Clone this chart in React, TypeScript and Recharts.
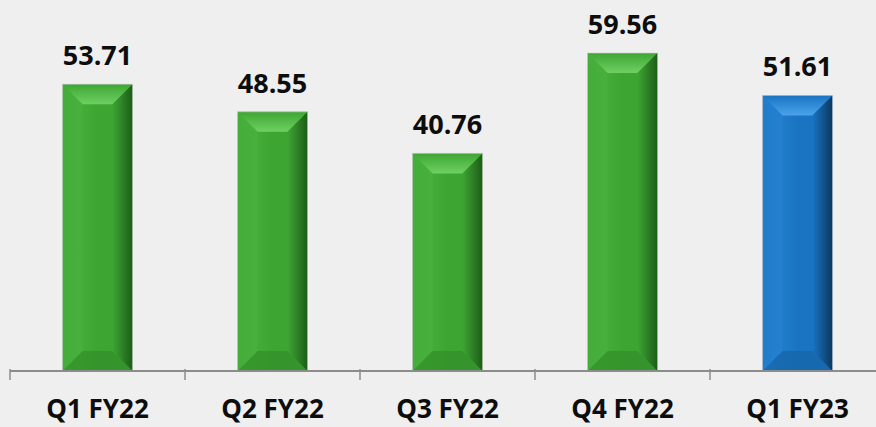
import React from 'react'
import { BarChart, Bar, XAxis, YAxis, LabelList, Cell } from 'recharts'

const quarters = ['Q1 FY22', 'Q2 FY22', 'Q3 FY22', 'Q4 FY22', 'Q1 FY23']
const values = [53.71, 48.55, 40.76, 59.56, 51.61]
const highlight = [false, false, false, false, true]

const data = quarters.map((q, i) => ({ name: q, value: values[i], hl: highlight[i] }))

const palettes = {
  green: { base: '#3da633', light: '#6fd062', dark: '#1d5c18', bottom: '#33912b', left: '#4cb540' },
  blue: { base: '#1a74c2', light: '#4aa3ea', dark: '#0b3760', bottom: '#1766aa', left: '#2886d4' },
}

const BevelBar = (props: any) => {
  const { x, y, width, height, payload } = props
  if (!height || height <= 0) return null
  const key = payload.hl ? 'blue' : 'green'
  const p = palettes[key]
  const b = Math.min(20, width / 3, height / 3)
  return (
    <g>
      <rect x={x} y={y} width={width} height={height} fill={`url(#face-${key})`} />
      {/* top bevel */}
      <polygon
        points={`${x},${y} ${x + width},${y} ${x + width - b},${y + b} ${x + b},${y + b}`}
        fill={`url(#top-${key})`}
      />
      {/* bottom bevel */}
      <polygon
        points={`${x},${y + height} ${x + width},${y + height} ${x + width - b},${y + height - b} ${x + b},${y + height - b}`}
        fill={p.bottom}
        opacity={0.8}
      />
      {/* left bevel */}
      <polygon
        points={`${x},${y} ${x + b},${y + b} ${x + b},${y + height - b} ${x},${y + height}`}
        fill={`url(#left-${key})`}
        opacity={0.5}
      />
      {/* right bevel */}
      <polygon
        points={`${x + width},${y} ${x + width - b},${y + b} ${x + width - b},${y + height - b} ${x + width},${y + height}`}
        fill={`url(#right-${key})`}
      />
      <rect x={x} y={y} width={width} height={height} fill="none" stroke="#c9c9c9" strokeWidth={1} strokeOpacity={0.6} />
    </g>
  )
}

const QuarterTick = (props: any) => {
  const { x, y, payload, index } = props
  const half = 87.5
  return (
    <g>
      <line x1={x - half} y1={y - 8} x2={x - half} y2={y + 3} stroke="#8c8c8c" strokeWidth={1.5} />
      {index === quarters.length - 1 && (
        <line x1={x + half} y1={y - 8} x2={x + half} y2={y + 3} stroke="#8c8c8c" strokeWidth={1.5} />
      )}
      <text x={x} y={y + 41} textAnchor="middle" fontSize={26} fontWeight={700} fill="#0d0d0d" fontFamily="'Open Sans', sans-serif">
        {payload.value}
      </text>
    </g>
  )
}

const Defs = () => (
  <defs>
    {(['green', 'blue'] as const).map((k) => {
      const p = palettes[k]
      return (
        <React.Fragment key={k}>
          <linearGradient id={`face-${k}`} x1="0" y1="0" x2="1" y2="0">
            <stop offset="0%" stopColor={p.left} />
            <stop offset="50%" stopColor={p.base} />
            <stop offset="100%" stopColor={p.base} />
          </linearGradient>
          <linearGradient id={`top-${k}`} x1="0" y1="0" x2="0" y2="1">
            <stop offset="0%" stopColor={p.base} />
            <stop offset="100%" stopColor={p.light} />
          </linearGradient>
          <linearGradient id={`left-${k}`} x1="0" y1="0" x2="1" y2="0">
            <stop offset="0%" stopColor={p.base} />
            <stop offset="100%" stopColor={p.left} />
          </linearGradient>
          <linearGradient id={`right-${k}`} x1="0" y1="0" x2="1" y2="0">
            <stop offset="0%" stopColor={p.base} />
            <stop offset="100%" stopColor={p.dark} />
          </linearGradient>
        </React.Fragment>
      )
    })}
  </defs>
)

export default function App() {
  return (
    <div style={{ position: 'fixed', top: 0, left: 0, width: 876, height: 427, overflow: 'hidden', background: '#efefef' }}>
      <BarChart
        width={895}
        height={427}
        data={data}
        margin={{ top: 24, right: 10, bottom: 0, left: 10 }}
        barCategoryGap="30%"
      >
        <Defs />
        <XAxis
          dataKey="name"
          height={56}
          axisLine={{ stroke: '#8c8c8c', strokeWidth: 2 }}
          tickLine={false}
          tick={<QuarterTick />}
          interval={0}
          tickMargin={0}
        />
        <YAxis hide domain={[0, 65]} />
        <Bar dataKey="value" shape={<BevelBar />} isAnimationActive={false}>
          {data.map((d) => (
            <Cell key={d.name} fill={d.hl ? '#1a74c2' : '#3da633'} />
          ))}
          <LabelList
            dataKey="value"
            position="top"
            offset={19}
            fontSize={27}
            fontWeight={700}
            fill="#0d0d0d"
            fontFamily="'Open Sans', sans-serif"
          />
        </Bar>
      </BarChart>
    </div>
  )
}
